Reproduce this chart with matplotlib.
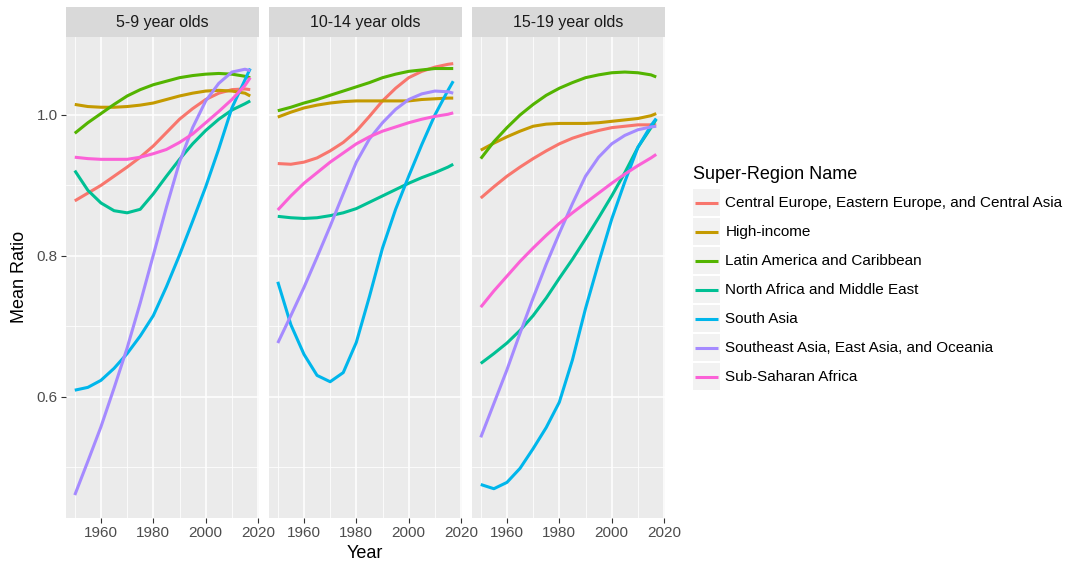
import numpy as np
import matplotlib.pyplot as plt
from matplotlib.legend_handler import HandlerLine2D
from matplotlib.patches import Rectangle

plt.rcParams['font.family'] = ['Liberation Sans', 'DejaVu Sans']

years = [1950, 1955, 1960, 1965, 1970, 1975, 1980, 1985, 1990, 1995, 2000, 2005, 2010, 2015, 2017]

regions = ['Central Europe, Eastern Europe, and Central Asia', 'High-income',
           'Latin America and Caribbean', 'North Africa and Middle East', 'South Asia',
           'Southeast Asia, East Asia, and Oceania', 'Sub-Saharan Africa']
colors = ['#F8766D', '#C49A00', '#53B400', '#00C094', '#00B6EB', '#A58AFF', '#FB61D7']

panels = ['5-9 year olds', '10-14 year olds', '15-19 year olds']

# 5-9 year olds
age_5_9 = [
    [.878, .889, .900, .913, .926, .940, .956, .975, .994, 1.009, 1.022, 1.031, 1.036, 1.037, 1.036],
    [1.015, 1.012, 1.011, 1.011, 1.012, 1.014, 1.017, 1.022, 1.027, 1.031, 1.034, 1.035, 1.034, 1.031, 1.027],
    [.974, .989, 1.002, 1.015, 1.027, 1.036, 1.043, 1.048, 1.053, 1.056, 1.058, 1.059, 1.058, 1.055, 1.053],
    [.921, .893, .875, .864, .861, .866, .888, .913, .937, .959, .978, .994, 1.007, 1.016, 1.020],
    [.609, .613, .623, .640, .661, .686, .715, .756, .801, .849, .898, .952, 1.010, 1.050, 1.066],
    [.460, .508, .557, .612, .669, .733, .801, .869, .933, .982, 1.020, 1.045, 1.061, 1.065, 1.063],
    [.940, .938, .937, .937, .937, .940, .945, .951, .961, .973, .989, 1.005, 1.022, 1.042, 1.053],
]
# 10-14 year olds
age_10_14 = [
    [.931, .930, .933, .939, .949, .961, .977, .998, 1.020, 1.038, 1.053, 1.062, 1.068, 1.072, 1.073],
    [.997, 1.004, 1.010, 1.014, 1.017, 1.019, 1.020, 1.020, 1.020, 1.020, 1.020, 1.022, 1.023, 1.024, 1.024],
    [1.006, 1.011, 1.017, 1.022, 1.028, 1.034, 1.040, 1.046, 1.053, 1.058, 1.062, 1.064, 1.066, 1.066, 1.066],
    [.856, .854, .853, .854, .857, .861, .867, .876, .885, .894, .903, .911, .918, .926, .930],
    [.763, .702, .660, .630, .621, .634, .677, .742, .811, .866, .913, .958, 1.000, 1.035, 1.048],
    [.676, .715, .755, .798, .842, .888, .933, .966, .989, 1.008, 1.022, 1.030, 1.034, 1.033, 1.031],
    [.865, .885, .903, .918, .933, .946, .959, .969, .977, .983, .989, .994, .998, 1.001, 1.003],
]
# 15-19 year olds
age_15_19 = [
    [.882, .898, .913, .926, .938, .949, .959, .967, .973, .978, .982, .984, .986, .986, .986],
    [.950, .960, .969, .977, .984, .987, .988, .988, .988, .989, .991, .993, .995, .999, 1.002],
    [.938, .962, .982, 1.000, 1.015, 1.028, 1.038, 1.046, 1.053, 1.057, 1.060, 1.061, 1.060, 1.057, 1.054],
    [.647, .661, .676, .694, .715, .740, .768, .795, .824, .854, .885, .918, .954, .982, .994],
    [.475, .469, .478, .498, .526, .556, .592, .652, .725, .790, .852, .905, .954, .985, .995],
    [.542, .590, .638, .690, .740, .788, .832, .874, .913, .940, .959, .971, .979, .983, .984],
    [.727, .750, .771, .792, .811, .829, .846, .861, .875, .889, .903, .916, .928, .939, .944],
]
data = [age_5_9, age_10_14, age_15_19]


class KeyHandler(HandlerLine2D):
    # grey key box with the line centred in it, like ggplot
    def create_artists(self, legend, orig_handle, xdescent, ydescent,
                       width, height, fontsize, trans):
        arts = super().create_artists(legend, orig_handle, xdescent, ydescent,
                                      width, height, fontsize, trans)
        box = Rectangle((-xdescent, -ydescent), width, height,
                        facecolor='#F2F2F2', edgecolor='none', transform=trans)
        ymid = height / 2 - ydescent
        x0 = -xdescent + 0.08 * width
        x1 = -xdescent + 0.92 * width
        for a in arts:
            a.set_data([x0, x1], [ymid, ymid])
            a.set_solid_capstyle('butt')
        return [box] + arts


W, H = 1069, 567
fig = plt.figure(figsize=(W / 100, H / 100), dpi=100)

lefts = [66, 269, 472]
pw = 193
ptop, pbot = 37, 518
strip_h = 30

axes = []
for i, name in enumerate(panels):
    ax = fig.add_axes([lefts[i] / W, 1 - pbot / H, pw / W, (pbot - ptop) / H])
    ax.set_facecolor('#EBEBEB')
    for s in ax.spines.values():
        s.set_visible(False)
    for j, reg in enumerate(regions):
        ax.plot(years, data[i][j], color=colors[j], lw=2.2, label=reg,
                solid_capstyle='butt')
    ax.set_xlim(1946.65, 2020.35)
    ax.set_ylim(0.4274, 1.1108)
    ax.set_xticks([1960, 1980, 2000, 2020])
    ax.set_xticks([1950, 1970, 1990, 2010], minor=True)
    ax.set_yticks([0.6, 0.8, 1.0])
    ax.set_yticks([0.5, 0.7, 0.9], minor=True)
    ax.grid(which='major', color='white', lw=1.1)
    ax.grid(which='minor', color='white', lw=0.55)
    ax.set_axisbelow(True)
    ax.tick_params(which='major', length=3.5, color='#333333', labelsize=11,
                   labelcolor='#4D4D4D', pad=2.5)
    ax.tick_params(which='minor', length=0)
    if i > 0:
        ax.tick_params(axis='y', which='both', length=0, labelleft=False)
    else:
        ax.set_yticklabels(['0.6', '0.8', '1.0'])
    axes.append(ax)

    sax = fig.add_axes([lefts[i] / W, 1 - ptop / H, pw / W, strip_h / H])
    sax.set_facecolor('#D9D9D9')
    sax.set_xticks([])
    sax.set_yticks([])
    for s in sax.spines.values():
        s.set_visible(False)
    sax.text(0.5, 0.5, name, ha='center', va='center', fontsize=11.5,
             color='#1A1A1A', transform=sax.transAxes)

fig.text(365 / W, 1 - 553 / H, 'Year', ha='center', va='center', fontsize=13)
fig.text(20 / W, 1 - 277 / H, 'Mean Ratio', ha='center', va='center',
         rotation=90, fontsize=13)

handles, labels = axes[0].get_legend_handles_labels()
leg = fig.legend(handles, labels, title='Super-Region Name',
                 loc='upper left', bbox_to_anchor=(681 / W, 1 - 154 / H),
                 frameon=False, fontsize=11, title_fontsize=13,
                 handlelength=1.77, handleheight=2.42, handletextpad=0.33,
                 labelspacing=0.08, borderpad=0.3,
                 handler_map={h: KeyHandler() for h in handles})
leg._legend_box.align = 'left'
leg._legend_box.sep = 3.9

fig.savefig('out.png', dpi=100, facecolor='white')
